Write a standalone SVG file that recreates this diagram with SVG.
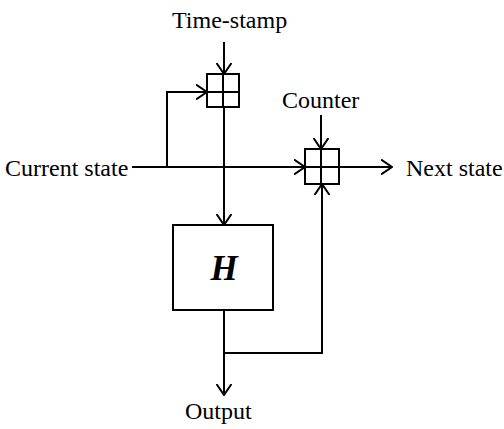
<svg xmlns="http://www.w3.org/2000/svg" width="504" height="429" viewBox="0 0 504 429">
<style>
.ln{fill:none;stroke:#000;stroke-width:2}
.bx{fill:#fff;stroke:#000;stroke-width:2}
.t{font-family:"Liberation Serif","Times New Roman",serif;font-size:24px;fill:#000}
.h{font-family:"Liberation Serif","Times New Roman",serif;font-size:35px;font-weight:bold;font-style:italic;fill:#000}
</style>
<defs>
<marker id="ah" viewBox="0 0 12 16" refX="11" refY="8" markerWidth="12" markerHeight="16" markerUnits="userSpaceOnUse" orient="auto">
<path d="M0,0.5 L11,8 L0,15.5" fill="none" stroke="#000" stroke-width="2"/>
</marker>
</defs>
<rect width="504" height="429" fill="#fff"/>
<g id="connectors">
<path class="ln" d="M224,42 V74" marker-end="url(#ah)"/>
<path class="ln" d="M167,167 V92 H207" marker-end="url(#ah)"/>
<path class="ln" d="M132,167 H305" marker-end="url(#ah)"/>
<path class="ln" d="M339,167 H392" marker-end="url(#ah)"/>
<path class="ln" d="M321,115 V149" marker-end="url(#ah)"/>
<path class="ln" d="M224,107 V225" marker-end="url(#ah)"/>
<path class="ln" d="M224,310 V395" marker-end="url(#ah)"/>
<path class="ln" d="M224,353 H322 V184" marker-end="url(#ah)"/>
</g>
<g id="timestamp-box">
<rect class="bx" x="207" y="74" width="32" height="33"/>
<path class="ln" d="M223,74 V107 M207,92 H239"/>
</g>
<g id="counter-box">
<rect class="bx" x="305" y="149" width="34" height="35"/>
<path class="ln" d="M321,149 V184 M305,167 H339"/>
</g>
<g id="H">
<rect class="bx" x="173" y="225" width="100" height="85"/>
<text class="h" x="224" y="280" text-anchor="middle">H</text>
</g>
<g id="labels">
<text class="t" x="172" y="28">Time-stamp</text>
<text class="t" x="282" y="108">Counter</text>
<text class="t" x="5" y="176">Current state</text>
<text class="t" x="406" y="176">Next state</text>
<text class="t" x="185" y="419">Output</text>
</g>
</svg>
